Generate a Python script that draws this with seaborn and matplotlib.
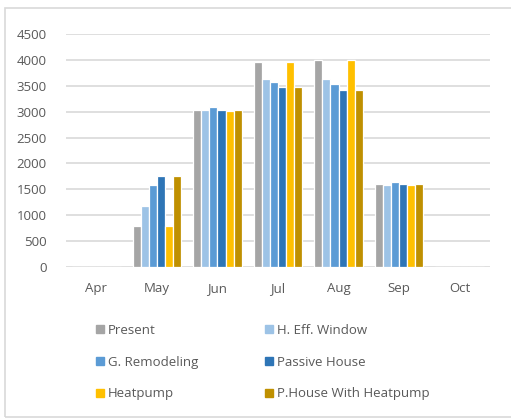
import matplotlib
matplotlib.use("Agg")
import matplotlib.pyplot as plt
import matplotlib.patches as mpatches
import pandas as pd
import seaborn as sns

months = ["Apr", "May", "Jun", "Jul", "Aug", "Sep", "Oct"]
series_names = ["Present", "H. Eff. Window", "G. Remodeling", "Passive House",
                "Heatpump", "P.House With Heatpump"]
present = [0, 800, 3025, 3950, 4000, 1595]
high_eff_window = [0, 1180, 3025, 3630, 3625, 1590]
g_remodeling = [0, 1580, 3090, 3580, 3540, 1635]
passive_house = [0, 1750, 3040, 3475, 3420, 1605]
heatpump = [0, 800, 3010, 3950, 4000, 1590]
phouse_heatpump = [0, 1750, 3040, 3475, 3420, 1605]
yticks = [0, 500, 1000, 1500, 2000, 2500, 3000, 3500, 4000, 4500]

colors = ["#A5A5A5", "#9DC3E6", "#5B9BD5", "#2E75B6", "#FFC000", "#BF9000"]

all_series = [present, high_eff_window, g_remodeling, passive_house,
              heatpump, phouse_heatpump]
rows = []
for name, vals in zip(series_names, all_series):
    for m, v in zip(months, vals + [0] * (len(months) - len(vals))):
        rows.append({"month": m, "series": name, "value": v})
df = pd.DataFrame(rows)

sns.set_theme(style="white")
plt.rcParams["font.family"] = ["Open Sans", "DejaVu Sans"]

fig = plt.figure(figsize=(5.11, 4.19), dpi=100)
ax = fig.add_axes([66 / 511, 1 - 267 / 419, (490 - 66) / 511, (267 - 34) / 419])

sns.barplot(data=df, x="month", y="value", hue="series", order=months,
            hue_order=series_names, palette=colors, width=0.8, gap=0,
            saturation=1, ax=ax, legend=False, errorbar=None,
            edgecolor="white", linewidth=0.9)

ax.set_ylim(0, 4500)
ax.set_xlim(-0.5, len(months) - 0.5)
ax.set_yticks(yticks)
ax.set_yticklabels([str(t) for t in yticks])
ax.yaxis.grid(True, color="#D9D9D9", linewidth=1.2)
ax.set_axisbelow(True)
for s in ax.spines.values():
    s.set_visible(False)
ax.set_xlabel("")
ax.set_ylabel("")
ax.tick_params(axis="both", length=0, labelsize=9.5, labelcolor="#595959")
ax.tick_params(axis="y", pad=14)
ax.tick_params(axis="x", pad=11)

# legend laid out row by row in two columns
order = [0, 2, 4, 1, 3, 5]
handles = [mpatches.Patch(color=colors[i], label=series_names[i]) for i in order]
leg = fig.legend(handles=handles, ncol=2, loc="upper left",
                 bbox_to_anchor=(84 / 511, 1 - 312 / 419), frameon=False,
                 fontsize=9.5, handlelength=0.6, handleheight=0.6,
                 handletextpad=0.3, columnspacing=5.1, labelspacing=1.42)
for t in leg.get_texts():
    t.set_color("#595959")

# outer chart border
fig.patches.append(mpatches.Rectangle((5 / 511, 2 / 419), 1.2, 1 - 10 / 419,
                                      transform=fig.transFigure, fill=False,
                                      edgecolor="#D9D9D9", linewidth=1.2))

fig.savefig("out.png", dpi=100)
